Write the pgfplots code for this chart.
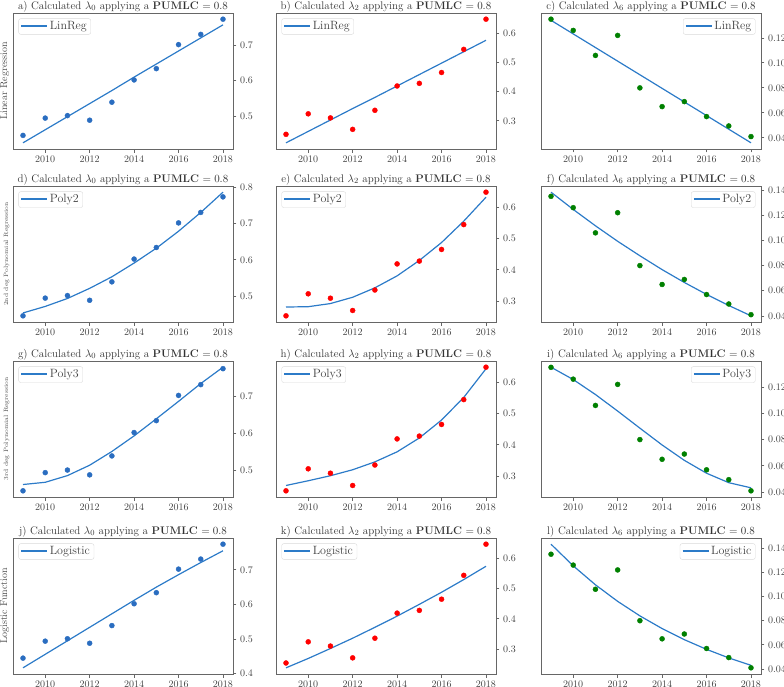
\documentclass[border=0pt]{standalone}
\usepackage{pgfplots}
\pgfplotsset{compat=1.18}
\usepackage{pgfplotstable}

\definecolor{fitblue}{HTML}{2C7BC8}
\definecolor{ptblue}{HTML}{2A6DC0}
\definecolor{ptred}{HTML}{FF0000}
\definecolor{ptgreen}{HTML}{008000}

% observed values per year
\pgfplotstableread{
year  l0    l2    l6
2009  0.445 0.254 0.135
2010  0.494 0.324 0.126
2011  0.501 0.310 0.106
2012  0.488 0.271 0.122
2013  0.539 0.336 0.080
2014  0.602 0.419 0.065
2015  0.634 0.428 0.069
2016  0.702 0.465 0.057
2017  0.731 0.544 0.0495
2018  0.774 0.647 0.041
}\pts

% fitted curves
\pgfplotstableread{
year  lin0  lin2  lin6   pa0   pa2   pa6    pb0   pb2   pb6    lg0   lg2   lg6
2009  0.424 0.225 0.1341 0.453 0.282 0.1383 0.462 0.271 0.1351 0.417 0.238 0.1433
2010  0.461 0.264 0.1232 0.471 0.283 0.1246 0.468 0.286 0.1257 0.456 0.269 0.1254
2011  0.498 0.303 0.1123 0.493 0.293 0.1116 0.486 0.302 0.1143 0.495 0.302 0.1097
2012  0.535 0.342 0.1014 0.521 0.313 0.0993 0.514 0.321 0.1017 0.534 0.336 0.0960
2013  0.572 0.380 0.0905 0.553 0.343 0.0878 0.551 0.346 0.0887 0.573 0.372 0.0840
2014  0.610 0.419 0.0796 0.591 0.381 0.0768 0.593 0.378 0.0759 0.612 0.409 0.0735
2015  0.647 0.458 0.0687 0.632 0.430 0.0666 0.639 0.422 0.0642 0.650 0.448 0.0643
2016  0.684 0.497 0.0578 0.679 0.487 0.0571 0.686 0.479 0.0544 0.686 0.488 0.0563
2017  0.721 0.536 0.0469 0.731 0.555 0.0483 0.734 0.551 0.0472 0.721 0.530 0.0492
2018  0.758 0.575 0.0360 0.787 0.631 0.0401 0.778 0.642 0.0433 0.755 0.574 0.0431
}\fits

\pgfplotsset{
  panel/.style={
    width=220pt, height=136pt, scale only axis, anchor=north west,
    xmin=2008.55, xmax=2018.45, xtick={2010,2012,...,2018},
    enlarge y limits=0.05,
    xtick pos=bottom, ytick pos=right, yticklabel pos=right,
    tick align=outside,
    axis line style={black!60, line width=0.8pt},
    every tick/.style={black!60, line width=0.8pt},
    major tick length=3.5pt,
    x tick label style={/pgf/number format/1000 sep={}},
    tick label style={font=\fontsize{10}{12}\selectfont, text=black!75},
    title style={font=\fontsize{11}{13}\selectfont, text=black!80,
      at={(0.5,1)}, anchor=base, yshift=-2pt},
    legend style={font=\fontsize{12}{14}\selectfont, text=black!75, draw=black!15,
      rounded corners=2pt, at={(0.025,0.96)}, anchor=north west,
      inner xsep=2pt, inner ysep=1pt},
    legend image code/.code={\draw[fitblue, line width=1.2pt] (0pt,0.5pt) -- (26pt,0.5pt);},
    legend cell align=left,
  },
  lam0/.style={ytick={0.4,0.5,...,0.81},
    yticklabel style={/pgf/number format/.cd, fixed, fixed zerofill, precision=1}},
  lam2/.style={ytick={0.3,0.4,...,0.61},
    yticklabel style={/pgf/number format/.cd, fixed, fixed zerofill, precision=1}},
  lam6/.style={ytick={0.04,0.06,...,0.141},
    yticklabel style={/pgf/number format/.cd, fixed, fixed zerofill, precision=2},
    legend style={at={(0.975,0.96)}, anchor=north east}},
  leftlab/.style={ylabel style={at={(axis description cs:0,0.5)}, anchor=south,
    inner sep=0pt, yshift=3.5pt, text=black!70}},
  fit/.style={fitblue, line width=1.2pt},
  pts/.style={only marks, mark=*, mark size=2.5pt, forget plot},
}

\begin{document}
\begin{tikzpicture}

% row 1: linear regression
\begin{axis}[panel, lam0, leftlab, at={(13pt,-13pt)},
  ylabel={\fontsize{10}{12}\selectfont Linear Regression},
  title={a) Calculated $\lambda_0$ applying a \textbf{PUMLC} $= 0.8$}]
  \addplot[pts, ptblue] table[x=year, y=l0] {\pts};
  \addplot[fit] table[x=year, y=lin0] {\fits};
  \legend{LinReg}
\end{axis}
\begin{axis}[panel, lam2, at={(276pt,-13pt)},
  title={b) Calculated $\lambda_2$ applying a \textbf{PUMLC} $= 0.8$}]
  \addplot[pts, ptred] table[x=year, y=l2] {\pts};
  \addplot[fit] table[x=year, y=lin2] {\fits};
  \legend{LinReg}
\end{axis}
\begin{axis}[panel, lam6, at={(541pt,-13pt)},
  title={c) Calculated $\lambda_6$ applying a \textbf{PUMLC} $= 0.8$}]
  \addplot[pts, ptgreen] table[x=year, y=l6] {\pts};
  \addplot[fit] table[x=year, y=lin6] {\fits};
  \legend{LinReg}
\end{axis}

% row 2: 2nd degree polynomial
\begin{axis}[panel, lam0, leftlab, at={(13pt,-186pt)},
  ylabel={\fontsize{6.2}{7}\selectfont 2nd deg Polynomial Regression},
  title={d) Calculated $\lambda_0$ applying a \textbf{PUMLC} $= 0.8$}]
  \addplot[pts, ptblue] table[x=year, y=l0] {\pts};
  \addplot[fit] table[x=year, y=pa0] {\fits};
  \legend{Poly2}
\end{axis}
\begin{axis}[panel, lam2, at={(276pt,-186pt)},
  title={e) Calculated $\lambda_2$ applying a \textbf{PUMLC} $= 0.8$}]
  \addplot[pts, ptred] table[x=year, y=l2] {\pts};
  \addplot[fit] table[x=year, y=pa2] {\fits};
  \legend{Poly2}
\end{axis}
\begin{axis}[panel, lam6, at={(541pt,-186pt)},
  title={f) Calculated $\lambda_6$ applying a \textbf{PUMLC} $= 0.8$}]
  \addplot[pts, ptgreen] table[x=year, y=l6] {\pts};
  \addplot[fit] table[x=year, y=pa6] {\fits};
  \legend{Poly2}
\end{axis}

% row 3: 3rd degree polynomial
\begin{axis}[panel, lam0, leftlab, at={(13pt,-361pt)},
  ylabel={\fontsize{6.2}{7}\selectfont 3rd deg Polynomial Regression},
  title={g) Calculated $\lambda_0$ applying a \textbf{PUMLC} $= 0.8$}]
  \addplot[pts, ptblue] table[x=year, y=l0] {\pts};
  \addplot[fit] table[x=year, y=pb0] {\fits};
  \legend{Poly3}
\end{axis}
\begin{axis}[panel, lam2, at={(276pt,-361pt)},
  title={h) Calculated $\lambda_2$ applying a \textbf{PUMLC} $= 0.8$}]
  \addplot[pts, ptred] table[x=year, y=l2] {\pts};
  \addplot[fit] table[x=year, y=pb2] {\fits};
  \legend{Poly3}
\end{axis}
\begin{axis}[panel, lam6, at={(541pt,-361pt)},
  title={i) Calculated $\lambda_6$ applying a \textbf{PUMLC} $= 0.8$}]
  \addplot[pts, ptgreen] table[x=year, y=l6] {\pts};
  \addplot[fit] table[x=year, y=pb6] {\fits};
  \legend{Poly3}
\end{axis}

% row 4: logistic function
\begin{axis}[panel, lam0, leftlab, at={(13pt,-538pt)},
  ylabel={\fontsize{10}{12}\selectfont Logistic Function},
  title={j) Calculated $\lambda_0$ applying a \textbf{PUMLC} $= 0.8$}]
  \addplot[pts, ptblue] table[x=year, y=l0] {\pts};
  \addplot[fit] table[x=year, y=lg0] {\fits};
  \legend{Logistic}
\end{axis}
\begin{axis}[panel, lam2, at={(276pt,-538pt)},
  title={k) Calculated $\lambda_2$ applying a \textbf{PUMLC} $= 0.8$}]
  \addplot[pts, ptred] table[x=year, y=l2] {\pts};
  \addplot[fit] table[x=year, y=lg2] {\fits};
  \legend{Logistic}
\end{axis}
\begin{axis}[panel, lam6, at={(541pt,-538pt)},
  title={l) Calculated $\lambda_6$ applying a \textbf{PUMLC} $= 0.8$}]
  \addplot[pts, ptgreen] table[x=year, y=l6] {\pts};
  \addplot[fit] table[x=year, y=lg6] {\fits};
  \legend{Logistic}
\end{axis}

\pgfresetboundingbox
\useasboundingbox (0,0) rectangle (784pt,-686pt);
\end{tikzpicture}
\end{document}
